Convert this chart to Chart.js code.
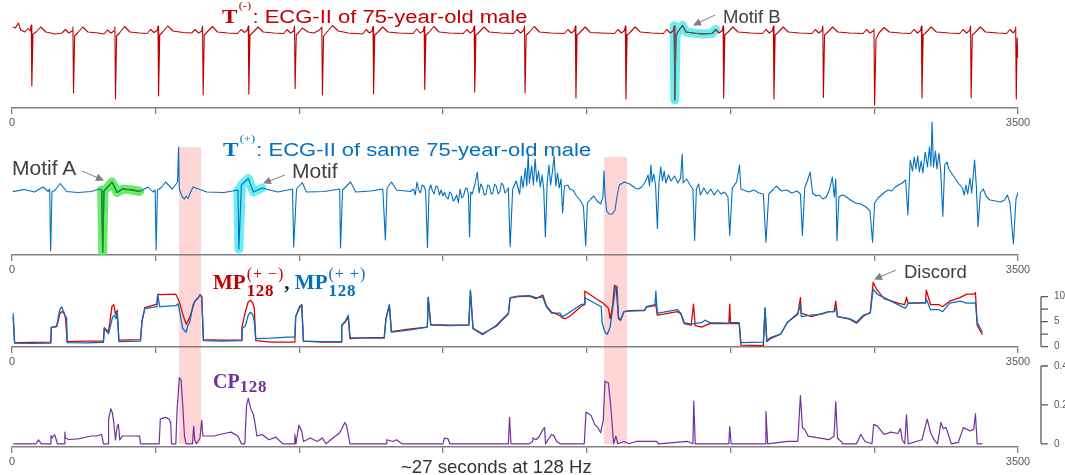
<!DOCTYPE html>
<html>
<head>
<meta charset="utf-8">
<script src="https://cdn.jsdelivr.net/npm/chart.js@4.4.1/dist/chart.umd.min.js"></script>
<style>
  body { margin: 0; background: #fff; }
  #wrap { position: relative; width: 1065px; height: 475px; overflow: hidden; font-family: "Liberation Sans", Arial, sans-serif; }
  canvas { position: absolute; left: 0; }
  .band { position: absolute; background: rgba(255, 0, 0, 0.16); }
  .txt { position: absolute; white-space: nowrap; line-height: 1; }
  .wide { transform: scaleX(1.25); transform-origin: 0 0; font-size: 17.6px; }
  .T { font-family: "Liberation Serif", serif; font-weight: bold; font-size: 18.5px; }
  .sup { font-family: "Liberation Serif", serif; font-size: 10px; position: relative; top: -14px; margin-left: 1px; margin-right: 1px; }
  .lbl { color: #404040; }
  .mp { font-family: "Liberation Serif", serif; font-weight: bold; font-size: 21px; }
  .ss { display: inline-flex; flex-direction: column; position: relative; top: -10px; margin-left: 1px; }
  .ss span { font-weight: normal; font-size: 16px; line-height: 17px; letter-spacing: 1px; }
  .ss b { font-size: 17px; line-height: 17px; letter-spacing: 0.7px; }
  #arrows { position: absolute; left: 0; top: 0; pointer-events: none; }
</style>
</head>
<body>
<div id="wrap">
  <canvas id="c1"></canvas>
  <canvas id="c2"></canvas>
  <canvas id="c3"></canvas>
  <canvas id="c4"></canvas>

  <div class="txt wide" style="left:222px;top:8.4px;color:#c00000"><span class="T">T</span><span class="sup">(-)</span>: ECG-II of 75-year-old male</div>
  <div class="txt wide" style="left:223px;top:140.6px;color:#0070c0"><span class="T">T</span><span class="sup">(+)</span>: ECG-II of same 75-year-old male</div>
  <div class="txt lbl" style="left:12px;top:157px;font-size:21px">Motif A</div>
  <div class="txt lbl" style="left:292px;top:160px;font-size:21px">Motif</div>
  <div class="txt lbl" style="left:723px;top:8px;font-size:18.5px">Motif B</div>
  <div class="txt lbl" style="left:904px;top:263px;font-size:18.5px">Discord</div>
  <div class="txt mp" style="left:213px;top:271.7px"><span style="color:#c00000">MP<span class="ss"><span>(+ &minus;)</span><b>128</b></span></span><span style="color:#222">, </span><span style="color:#0070c0">MP<span class="ss"><span>(+ +)</span><b>128</b></span></span></div>
  <div class="txt mp" style="left:213px;top:371px;font-size:20px;color:#7030a0">CP<span style="font-size:17px;letter-spacing:0.7px;position:relative;top:4px">128</span></div>
  <div class="txt lbl" style="left:401px;top:458px;font-size:18.6px;color:#333">~27 seconds at 128 Hz</div>

  <svg id="arrows" width="1065" height="475">
    <defs>
      <marker id="ah" markerWidth="8" markerHeight="8" refX="7" refY="4" orient="auto" markerUnits="userSpaceOnUse">
        <path d="M0,0 L8,4 L0,8 z" fill="#808080"/>
      </marker>
    </defs>
    <g stroke="#808080" stroke-width="1" marker-end="url(#ah)">
      <line x1="82" y1="171" x2="103" y2="180"/>
      <line x1="285" y1="175" x2="264" y2="183"/>
      <line x1="715" y1="15" x2="694" y2="25"/>
      <line x1="896" y1="270" x2="875" y2="279"/>
    </g>
  </svg>
</div>

<script>
// x axis: sample index 0..3500 (128 Hz)
const xTicks = [0, 500, 1000, 1500, 2000, 2500, 3000, 3500];

// T(-): ECG-II, [sample, amplitude]
const ecgMinus = [
  [3,0.6],[12,0.5],[22,1.0],[30,0.3],[45,0.1],[56,0.45],[64,0.2],[67,0.8],[69,-5.3],[73,-0.1],[84,0.1],[100,0.6],[118,0.1],[150,-0.1],
  [174,0.0],[186,0.35],[198,0.0],[209,0.2],[212,0.6],[214,-6.0],[218,-0.3],[228,0.0],[246,0.6],[264,0.1],[300,0.0],
  [320,-0.1],[332,0.3],[344,0.0],[355,0.2],[358,0.6],[360,-6.6],[364,-0.3],[374,0.0],[392,0.65],[410,0.1],[445,0.0],
  [470,-0.05],[482,0.35],[494,0.05],[505,0.25],[508,0.7],[510,-6.3],[514,-0.2],[524,0.1],[542,0.7],[560,0.2],[595,0.05],
  [625,0.0],[637,0.35],[649,0.0],[660,0.2],[663,0.7],[665,-6.2],[669,-0.2],[679,0.1],[697,0.65],[715,0.1],[750,0.0],
  [785,-0.05],[797,0.35],[809,0.05],[819,0.3],[822,0.7],[824,-6.1],[828,-0.2],[838,0.05],[856,0.6],[874,0.1],[910,0.0],
  [945,-0.05],[957,0.35],[969,0.0],[980,0.2],[983,0.7],[985,-5.55],[989,-0.2],[999,0.1],[1010,0.5],[1030,0.1],[1050,0.0],
  [1070,0.3],[1078,0.6],[1080,-6.2],[1084,-0.3],[1096,0.1],[1115,0.75],[1135,0.2],[1170,0.0],
  [1220,-0.1],[1232,0.35],[1244,0.0],[1253,0.2],[1256,0.65],[1258,-6.1],[1262,-0.2],[1272,0.05],[1290,0.6],[1308,0.1],[1345,0.0],
  [1395,-0.05],[1408,0.4],[1420,0.0],[1431,0.2],[1434,0.65],[1436,-5.65],[1440,-0.2],[1450,0.05],[1468,0.65],[1486,0.1],[1520,0.0],
  [1570,-0.05],[1582,0.35],[1594,0.0],[1605,0.25],[1608,0.7],[1610,-5.9],[1614,-0.2],[1624,0.05],[1642,0.6],[1660,0.1],[1700,0.0],
  [1745,-0.05],[1757,0.35],[1769,0.0],[1780,0.25],[1783,0.7],[1785,-6.0],[1789,-0.2],[1799,0.05],[1817,0.65],[1835,0.1],[1875,0.0],
  [1922,-0.05],[1934,0.35],[1946,0.0],[1957,0.25],[1960,0.7],[1962,-6.5],[1966,-0.2],[1976,0.05],[1994,0.6],[2012,0.05],[2050,0.0],
  [2096,-0.05],[2108,0.35],[2120,0.0],[2131,0.25],[2134,0.7],[2136,-6.6],[2140,-0.2],[2150,0.05],[2168,0.6],[2186,0.1],[2225,0.0],
  [2266,-0.05],[2278,0.35],[2290,0.0],[2301,0.25],[2304,0.7],[2306,-6.7],[2310,-0.3],[2318,0.2],[2333,0.75],[2345,0.1],[2370,0.0],[2400,-0.1],
  [2436,-0.05],[2448,0.35],[2460,0.0],[2471,0.25],[2474,0.7],[2476,-6.5],[2480,-0.2],[2490,0.05],[2508,0.6],[2526,0.1],[2570,0.0],
  [2611,-0.05],[2623,0.35],[2635,0.0],[2646,0.25],[2649,0.7],[2651,-6.6],[2655,-0.2],[2665,0.05],[2683,0.6],[2701,0.1],[2740,0.0],
  [2783,-0.05],[2795,0.35],[2807,0.0],[2818,0.25],[2821,0.7],[2823,-6.45],[2827,-0.2],[2837,0.05],[2855,0.6],[2873,0.1],[2915,0.0],
  [2961,-0.05],[2973,0.35],[2985,0.0],[2996,0.2],[2999,0.4],[3001,-7.2],[3006,-0.6],[3016,0.0],[3034,0.55],[3052,0.1],[3090,0.0],
  [3126,-0.05],[3138,0.35],[3150,0.0],[3161,0.25],[3164,0.7],[3166,-6.5],[3170,-0.2],[3180,0.05],[3198,0.6],[3216,0.1],[3260,0.0],
  [3297,-0.05],[3309,0.35],[3321,0.0],[3332,0.25],[3335,0.7],[3337,-6.5],[3341,-0.2],[3351,0.05],[3369,0.6],[3387,0.1],[3430,0.0],
  [3460,-0.05],[3472,0.35],[3484,0.0],[3490,0.3],[3492,0.6],[3494,-6.6],[3497,-0.5],[3500,-2.5]
];

// T(+): ECG-II of the same patient, [sample, amplitude]
const ecgPlus = [
  [3,-0.06],[42,0.15],[78,-0.1],[108,0.4],[126,-0.05],[131,0.2],[134.5,-6.0],[139,-0.1],[150,0.1],[168,0.75],[190,-0.05],[230,-0.15],
  [275,-0.05],[305,0.2],[312,0.1],[315.6,-6.1],[320,0.0],[330,0.3],[348,0.9],[366,-0.15],[384,0.2],[420,0.1],[444,-0.05],
  [474,0.4],[490,-0.1],[498,0.1],[501.5,-5.9],[506,0.1],[520,0.35],[534,0.9],[558,0.2],[576,0.9],[579.5,4.4],[582,0.2],
  [588,-0.3],[594,-0.65],[600,-0.8],[606,-0.5],[612,-0.75],[620,-0.2],[630,0.4],[678,-0.1],[738,-0.15],
  [786,0.1],[789.4,-5.8],[798,0.6],[822,1.25],[840,-0.1],[870,0.3],[924,-0.1],[960,0.1],[976,0.2],[980,-5.6],[990,0.2],
  [1010,0.85],[1024,-0.1],[1086,-0.05],[1140,0.2],[1143,-5.7],[1150,0.1],[1178,0.9],[1196,-0.1],[1248,0.0],[1290,0.2],
  [1299,-4.9],[1305,0.3],[1320,0.9],[1338,0.1],[1386,-0.05],[1397,0.2],[1403,-0.4],[1409,0.9],[1415,0.1],[1421,-0.2],[1427,0.6],
  [1433,0.5],[1439,0.0],[1445.5,-5.64],[1451,0.1],[1457,0.6],[1463,0.0],[1469,-0.3],[1475,0.5],[1481,0.4],[1487,-0.4],[1493,0.1],
  [1499,-0.5],[1505,-0.13],[1511,-0.6],[1517,-0.8],[1523,-0.1],[1529,-0.3],[1535,-1.0],[1541,-0.82],[1547,-0.4],[1553,-1.16],
  [1559,0.2],[1565,-0.7],[1571,-0.5],[1577,0.2],[1583,0.3],[1588,-0.4],[1592,-4.6],[1596,-0.1],[1601,-0.3],[1610,0.6],
  [1619,1.9],[1625,-0.2],[1631,0.7],[1637,0.4],[1643,-0.4],[1649,-0.3],[1655,0.6],[1661,0.5],[1667,-0.3],[1673,-0.2],
  [1679,0.7],[1685,0.5],[1691,-0.3],[1697,-0.1],[1703,0.8],[1709,0.6],[1715,-0.2],[1721,0.0],[1727,0.3],[1733,-5.57],
  [1742,0.2],[1754,1.0],[1766,-0.3],[1772,1.5],[1778,0.3],[1786,2.3],[1791,0.5],[1796,3.7],[1800,0.8],[1808,2.5],[1814,0.6],
  [1820,3.2],[1826,0.9],[1832,2.0],[1838,0.4],[1844,1.6],[1850,0.2],[1855.6,-4.6],[1862,0.8],[1868,2.6],[1874,0.6],[1880,1.9],
  [1886,3.5],[1892,0.5],[1898,1.8],[1904,0.3],[1910,1.2],[1915.6,-2.2],[1922,0.5],[1934,0.6],[1940,0.2],[1952,0.1],[1964,-0.5],
  [1976,-0.9],[1988,-1.5],[1996,-5.47],[2002,-1.2],[2014,-0.8],[2024,-0.5],[2036,-1.0],[2048,-1.3],[2056,-0.6],[2059.5,2.0],
  [2063,-0.3],[2069,-2.0],[2077,-2.3],[2089,-2.3],[2098,-1.9],[2105,-0.5],[2113,0.6],[2131,0.9],[2149,0.7],[2167,0.3],[2179,0.2],
  [2191,0.4],[2203,0.9],[2213,1.6],[2218,0.5],[2223,2.6],[2227,0.9],[2233,1.7],[2239,0.6],[2245.4,-3.75],[2251,0.9],[2257,2.4],
  [2263,1.0],[2269,2.0],[2275,0.8],[2284,1.6],[2293,1.0],[2305,1.5],[2317,0.8],[2326,1.3],[2332,3.66],[2335,0.8],[2347,1.2],
  [2359,0.6],[2369,0.2],[2375,-4.95],[2381,0.2],[2389,0.7],[2395,-0.4],[2407,0.3],[2419,-0.3],[2431,0.2],[2443,-0.4],[2455,0.1],
  [2467,-0.3],[2479,-0.1],[2491,-0.6],[2497,-4.44],[2506,0.3],[2521,0.9],[2531,2.6],[2536,0.2],[2545,0.1],[2563,-0.1],[2581,0.1],
  [2599,-0.2],[2614,-0.3],[2623,-5.12],[2633,-0.3],[2647,0.1],[2659,0.5],[2677,0.0],[2695,0.1],[2713,-0.2],[2731,0.0],[2743,-0.3],
  [2750,-4.44],[2758,0.3],[2767,1.0],[2777,1.9],[2785,-0.2],[2797,-0.5],[2809,-0.4],[2821,-0.8],[2833,-0.6],[2845,0.2],[2854,1.4],
  [2861,-0.6],[2866,1.2],[2870,-4.95],[2877,-0.6],[2887,-0.4],[2899,-0.5],[2917,-0.9],[2935,-1.2],[2953,-1.3],[2971,-1.6],
  [2985,-2.0],[2994,-5.12],[3001,-1.2],[3013,-0.7],[3025,-0.4],[3037,-0.1],[3049,0.1],[3061,0.0],[3073,0.4],[3085,0.6],[3097,0.8],
  [3109,1.1],[3117,-2.37],[3125,3.1],[3133,2.0],[3139,3.4],[3145,2.2],[3151,3.5],[3157,1.9],[3163,3.0],[3169,1.8],[3177,3.9],
  [3185,2.4],[3192,4.4],[3197,2.5],[3201,6.9],[3206,2.4],[3213,4.0],[3218,2.2],[3225,3.8],[3231,2.0],[3238.5,-2.54],[3245,2.6],
  [3253,2.9],[3259,2.2],[3271,1.7],[3283,1.2],[3295,0.7],[3307,0.3],[3313,-0.4],[3319,0.6],[3325,-0.3],[3333,1.3],[3339,-0.2],
  [3349,3.1],[3355,0.5],[3361,-3.57],[3369,-0.2],[3379,0.2],[3391,-0.6],[3403,-0.9],[3421,-1.0],[3439,-1.1],[3453,-0.9],
  [3463,-0.4],[3472,-1.2],[3484,-5.3],[3493,-0.8],[3500,-0.13]
];

// matrix profiles, window 128
const mpPlusPlus = [
  [4,6.7],[9,0.7],[70,0.65],[135,0.7],[137,3.9],[150,3.9],[156,4.3],[166,7.4],[172,8.0],[180,7.0],[186,6.0],[190,5.8],[192,0.8],
  [260,0.75],[318,0.85],[321,3.6],[336,2.6],[350,5.9],[356,6.3],[362,5.6],[366,7.0],[372,1.0],[447,1.1],[452,5.0],[462,7.6],
  [504,8.0],[507,10.4],[514,8.0],[570,8.2],[578,8.6],[588,5.5],[594,3.6],[606,2.9],[612,4.3],[618,4.8],[630,8.4],[636,9.1],
  [648,9.8],[654,10.3],[660,10.0],[666,1.2],[730,1.1],[798,1.2],[800,3.6],[812,4.2],[822,6.3],[830,6.9],[838,6.4],[843,5.0],
  [848,1.6],[900,1.7],[960,1.9],[984,1.9],[987,6.0],[1000,7.7],[1008,8.4],[1014,1.1],[1080,1.0],[1145,1.0],[1147,4.3],
  [1158,5.0],[1170,6.3],[1176,1.8],[1240,1.7],[1295,1.7],[1301,5.6],[1313,8.4],[1320,2.9],[1380,3.3],[1445,3.9],[1448,9.9],
  [1457,4.3],[1520,4.2],[1589,4.3],[1595,11.3],[1604,3.6],[1637,2.4],[1685,4.3],[1727,6.7],[1733,9.8],[1760,10.1],[1800,10.2],
  [1823,9.8],[1847,9.9],[1859,8.0],[1877,6.7],[1907,6.7],[1913,6.0],[1925,6.3],[1943,7.0],[1979,8.4],[1991,8.5],[1993,9.8],
  [2050,8.0],[2053,4.9],[2063,2.9],[2071,2.5],[2081,3.9],[2093,9.0],[2100,12.0],[2105,12.1],[2110,6.0],[2117,5.3],[2129,7.0],
  [2147,7.1],[2201,7.2],[2207,8.0],[2237,8.4],[2240,11.1],[2245,6.7],[2267,6.9],[2315,7.4],[2327,6.7],[2339,4.8],[2363,4.5],
  [2371,4.6],[2399,4.8],[2411,5.3],[2428,4.8],[2494,4.7],[2500,4.8],[2530,4.8],[2536,0.8],[2614,0.9],[2620,7.7],[2626,1.2],
  [2638,1.8],[2674,2.5],[2698,4.9],[2734,6.7],[2743,8.4],[2746,6.0],[2782,6.3],[2818,6.5],[2842,7.0],[2860,7.0],[2866,7.7],
  [2872,6.0],[2914,5.6],[2938,4.9],[2962,6.3],[2986,6.7],[2996,11.5],[3010,10.5],[3034,9.8],[3082,8.4],[3106,7.7],[3112,8.0],
  [3118,8.7],[3178,8.7],[3181,9.5],[3196,7.4],[3226,7.4],[3238,7.0],[3262,8.7],[3298,9.1],[3322,8.7],[3346,8.7],[3352,8.9],
  [3358,4.9],[3376,2.9]
];
const mpPlusMinus = [
  [4,6.0],[9,0.8],[70,0.85],[135,0.9],[137,3.8],[150,4.0],[156,4.0],[166,6.5],[172,7.0],[180,6.8],[186,5.9],[192,1.0],
  [260,1.1],[318,1.1],[321,3.8],[336,3.0],[348,8.1],[354,8.4],[360,6.5],[366,7.3],[372,1.3],[447,1.4],[452,5.0],[462,7.8],
  [504,8.5],[507,10.5],[516,10.4],[570,10.5],[576,9.8],[582,9.0],[594,6.5],[606,4.5],[618,5.8],[636,9.1],[648,9.8],[654,10.4],
  [660,10.1],[666,1.4],[730,1.3],[798,1.3],[800,3.9],[812,7.0],[822,9.0],[830,9.3],[838,8.7],[843,7.7],[848,1.2],[900,0.9],
  [960,0.9],[984,0.9],[987,6.0],[1000,8.0],[1008,8.4],[1014,1.1],[1080,0.9],[1145,0.9],[1147,4.2],[1158,4.9],[1164,5.3],
  [1170,5.9],[1176,1.6],[1240,1.8],[1295,1.8],[1301,5.6],[1313,8.3],[1320,3.0],[1380,3.5],[1445,3.9],[1448,9.8],[1457,4.4],
  [1520,4.3],[1589,4.3],[1595,11.0],[1604,3.7],[1637,2.6],[1685,4.1],[1727,6.6],[1733,9.7],[1760,10.0],[1800,10.1],[1823,9.6],
  [1847,10.3],[1859,8.2],[1877,6.9],[1907,6.2],[1913,5.8],[1925,5.6],[1943,6.2],[1979,8.0],[1991,8.4],[1993,11.1],[2057,8.7],
  [2075,7.7],[2081,5.6],[2089,8.0],[2096,12.3],[2102,12.0],[2110,5.6],[2117,5.3],[2129,7.0],[2147,7.2],[2201,7.3],[2207,7.9],
  [2237,8.2],[2240,8.4],[2245,6.3],[2267,6.5],[2315,7.0],[2327,6.6],[2339,4.6],[2363,4.3],[2371,8.5],[2377,4.2],[2399,3.9],
  [2411,4.2],[2428,4.6],[2494,4.6],[2497,8.5],[2500,4.6],[2530,4.6],[2536,0.3],[2614,0.2],[2620,7.7],[2626,1.0],[2638,1.6],
  [2674,2.5],[2698,4.9],[2734,6.5],[2743,9.8],[2746,6.7],[2782,6.0],[2818,6.6],[2842,7.0],[2860,7.0],[2866,9.1],[2872,6.0],
  [2914,5.5],[2938,4.7],[2962,6.1],[2986,6.9],[2996,12.9],[3010,11.3],[3034,9.6],[3082,8.7],[3106,8.4],[3112,9.9],[3118,8.7],
  [3178,8.8],[3181,11.3],[3196,8.4],[3226,8.4],[3238,8.0],[3262,9.1],[3298,9.8],[3322,10.5],[3346,10.5],[3352,10.8],
  [3358,4.3],[3376,2.4]
];

// contrast profile, window 128
const cp128 = [
  [4,0],[84,0],[92,0.02],[102,0],[135,0],[136,0.042],[140,0.03],[148,0.048],[152,0.03],[158,0],[183,0],[184,0.06],[186,0.03],
  [198,0.022],[230,0.025],[260,0.035],[276,0.04],[294,0.04],[312,0.048],[318,0],[334,0],[336,0.127],[344,0.18],[349,0.16],
  [354,0.11],[360,0.02],[366,0.09],[370,0.1],[375,0.02],[384,0.04],[420,0.04],[444,0.039],[447,0],[512,0],[516,0.127],
  [534,0.136],[546,0.127],[552,0.11],[555,0],[570,0],[574,0.163],[582,0.34],[588,0.33],[594,0.198],[600,0.04],[606,0],
  [628,0],[632,0.09],[636,0.02],[642,0],[654,0.03],[660,0.12],[664,0.04],[702,0.04],[738,0.053],[762,0.06],[786,0.04],
  [798,0],[810,0],[816,0.198],[822,0.234],[831,0.18],[840,0.15],[846,0.1],[852,0.04],[870,0.048],[894,0.021],[918,0.034],
  [942,0],[982,0],[984,0.048],[988,0],[998,0.096],[1008,0.066],[1014,0.012],[1038,0.03],[1062,0.012],[1080,0.03],[1092,0],
  [1140,0.057],[1146,0.074],[1158,0.11],[1164,0.092],[1176,0],[1302,0],[1304,0.021],[1326,0.012],[1338,0.021],[1356,0],
  [1499,0],[1505,0.03],[1517,0.025],[1523,0],[1727,0],[1731,0.136],[1736,0],[1800,0],[1811,0.012],[1813,0.03],[1823,0.021],
  [1835,0.039],[1847,0.074],[1853,0.083],[1856,0],[1877,0.048],[1885,0.042],[1895,0.012],[1907,0],[1991,0],[1997,0.163],
  [2015,0.145],[2027,0.1],[2039,0.083],[2048,0.057],[2057,0.119],[2063,0.322],[2075,0.313],[2084,0.18],[2093,0],[2101,0.039],
  [2108,0],[2129,0.012],[2147,0],[2171,0.012],[2243,0.012],[2249,0],[2351,0.012],[2369,0],[2372,0.22],[2377,0],[2494,0],
  [2497,0.089],[2502,0],[2620,0],[2623,0.166],[2629,0],[2698,0.012],[2734,0.012],[2743,0.248],[2750,0.083],[2758,0.074],
  [2770,0.039],[2806,0.03],[2842,0.021],[2860,0.039],[2866,0.216],[2872,0.03],[2884,0.012],[2890,0],[2938,0],[2953,0.048],
  [2968,0.012],[2992,0],[2998,0.1],[3010,0.092],[3034,0.048],[3058,0.06],[3082,0.053],[3091,0.078],[3097,0.021],[3106,0],
  [3112,0.149],[3118,0],[3166,0.021],[3184,0.127],[3196,0.057],[3208,0.021],[3220,0],[3232,0.11],[3240,0.078],[3250,0.083],
  [3268,0],[3292,0.007],[3310,0.083],[3334,0.066],[3346,0.074],[3352,0.154],[3358,0],[3376,0]
];

// highlighted subsequences (sample ranges)
const motifA = [312, 444];
const motifAPlus = [786, 923];
const motifB = [2302, 2452];
// shaded regions and where they start in T(+) amplitude
const bands = [[580, 658], [2060, 2138]];
const bandTops = [4.4, 3.4];
// right-hand axes
const mpTicks = [0, 2.5, 5, 7.5, 10];
const cpTicks = [0, 0.2, 0.4];

const pts = arr => arr.map(p => ({ x: p[0], y: p[1] }));
const part = (arr, r) => arr.filter(p => p[0] >= r[0] && p[0] <= r[1]);

function xScale() {
  return {
    type: 'linear', min: 0, max: 3500,
    afterBuildTicks: s => { s.ticks = xTicks.map(v => ({ value: v })); },
    afterFit: s => { s.height = 20; },
    grid: { drawOnChartArea: false, drawTicks: true, tickLength: 6, color: '#808080', lineWidth: 1.3 },
    border: { display: true, color: '#808080', width: 1.5 },
    ticks: {
      autoSkip: false, maxRotation: 0, padding: 2, color: '#595959',
      font: { family: 'Liberation Sans', size: 11 },
      callback: v => (v === 0 || v === 3500) ? String(v) : ''
    }
  };
}

// small axis to the right of the plot, drawn from the y scale
function rightAxis(ticks, fmt) {
  return {
    id: 'rightAxis',
    afterDraw(chart) {
      const { ctx, chartArea, scales } = chart;
      const y = scales.y;
      const xa = chartArea.right + 23;
      ctx.save();
      ctx.strokeStyle = '#595959';
      ctx.lineWidth = 1.3;
      ctx.beginPath();
      ctx.moveTo(xa, y.getPixelForValue(ticks[0]));
      ctx.lineTo(xa, y.getPixelForValue(ticks[ticks.length - 1]));
      ticks.forEach(v => {
        const py = y.getPixelForValue(v);
        ctx.moveTo(xa, py);
        ctx.lineTo(xa + 7, py);
      });
      ctx.stroke();
      ctx.fillStyle = '#595959';
      ctx.font = '10px "Liberation Sans"';
      ctx.textBaseline = 'middle';
      ticks.forEach(v => {
        const s = fmt(v);
        if (s) ctx.fillText(s, xa + 13, y.getPixelForValue(v));
      });
      ctx.restore();
    }
  };
}

function makeChart(id, top, height, padTop, yMin, yMax, datasets, extra) {
  const cv = document.getElementById(id);
  cv.style.top = top + 'px';
  cv.width = 1065;
  cv.height = height;
  return new Chart(cv, {
    type: 'line',
    data: { datasets },
    options: {
      responsive: false,
      animation: false,
      devicePixelRatio: 1,
      layout: { padding: { left: 12, right: 47, top: padTop, bottom: 0 } },
      plugins: { legend: { display: false }, tooltip: { enabled: false } },
      elements: { point: { radius: 0 }, line: { tension: 0, borderJoinStyle: 'round' } },
      scales: { x: xScale(), y: { display: false, min: yMin, max: yMax } }
    },
    plugins: extra ? [extra] : []
  });
}

const hl = (data, color) => ({ data: pts(data), borderColor: color, borderWidth: 9, borderCapStyle: 'round', borderJoinStyle: 'round' });

const c1 = makeChart('c1', 0, 128, 4, -7.5, 2.9, [
  { data: pts(part(ecgMinus, motifB)), borderColor: '#5a5a5a', borderWidth: 1.2 },
  { data: pts(ecgMinus), borderColor: '#c00000', borderWidth: 1.1 },
  hl(part(ecgMinus, motifB), 'rgba(70,232,240,0.8)')
]);

const c2 = makeChart('c2', 110, 165, 6, -6.4, 7.5, [
  { data: pts(part(ecgPlus, motifA)), borderColor: '#1e8c1e', borderWidth: 1.3 },
  { data: pts(ecgPlus), borderColor: '#0070c0', borderWidth: 1.1 },
  hl(part(ecgPlus, motifA), 'rgba(80,232,80,0.85)'),
  hl(part(ecgPlus, motifAPlus), 'rgba(70,232,240,0.8)')
]);

const c3 = makeChart('c3', 262, 105, 8, -0.06, 15.34, [
  { data: pts(mpPlusPlus), borderColor: '#0070c0', borderWidth: 1.3 },
  { data: pts(mpPlusMinus), borderColor: '#e00000', borderWidth: 1.3 }
], rightAxis(mpTicks, v => (v % 5 === 0) ? String(v) : ''));

const c4 = makeChart('c4', 352, 115, 6, -0.01645, 0.4411, [
  { data: pts(cp128), borderColor: '#7030a0', borderWidth: 1.2 }
], rightAxis(cpTicks, v => String(v)));

// shaded regions, placed from the charts' own scales
const wrap = document.getElementById('wrap');
bands.forEach((b, i) => {
  const xs = c2.scales.x;
  const left = xs.getPixelForValue(b[0]);
  const right = xs.getPixelForValue(b[1]);
  const top = 110 + c2.scales.y.getPixelForValue(bandTops[i]);
  const bottom = 352 + c4.scales.y.getPixelForValue(0);
  const d = document.createElement('div');
  d.className = 'band';
  d.style.left = left + 'px';
  d.style.width = (right - left) + 'px';
  d.style.top = top + 'px';
  d.style.height = (bottom - top) + 'px';
  wrap.insertBefore(d, wrap.firstChild);
});
</script>
</body>
</html>
